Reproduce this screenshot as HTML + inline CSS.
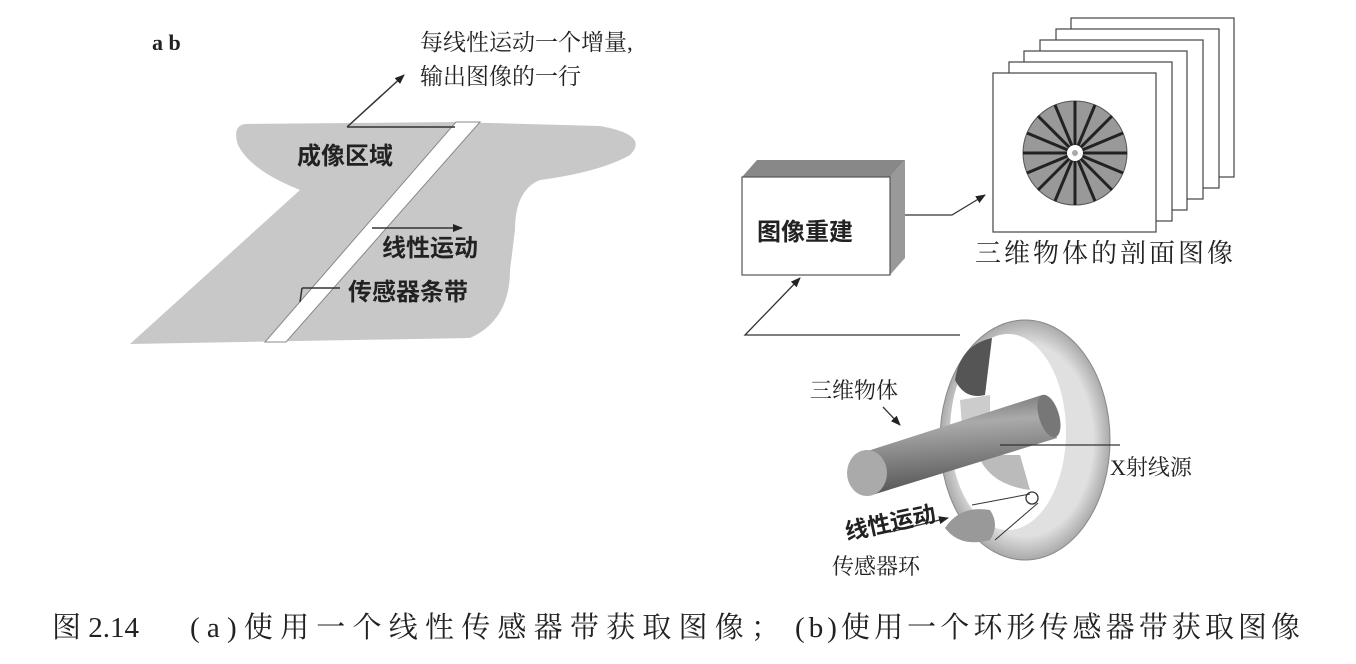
<!DOCTYPE html>
<html><head><meta charset="utf-8"><style>
html,body{margin:0;padding:0;background:#fff}
svg{display:block}
text{font-family:"Liberation Serif","Noto Serif CJK SC","Noto Sans CJK SC",serif;fill:#222}
.b{font-family:"Liberation Sans","Noto Sans CJK SC",sans-serif;font-weight:bold}
</style></head><body>
<svg width="1356" height="664" viewBox="0 0 1356 664" xmlns="http://www.w3.org/2000/svg">
<defs>
<marker id="ar" markerWidth="10" markerHeight="8" refX="9" refY="4" orient="auto" markerUnits="userSpaceOnUse"><path d="M0,0 L10,4 L0,8 z" fill="#222"/></marker>
<linearGradient id="cyl" x1="0" y1="0" x2="0.15" y2="1"><stop offset="0" stop-color="#666"/><stop offset="0.35" stop-color="#aaa"/><stop offset="1" stop-color="#555"/></linearGradient>
<radialGradient id="ring" cx="0.5" cy="0.5" r="0.5"><stop offset="0.8" stop-color="#e0e0e0"/><stop offset="1" stop-color="#aaa"/></radialGradient>
</defs>
<text x="152" y="50" font-size="22" style="font-family:'Liberation Serif',serif;font-weight:bold">a  b</text>
<path d="M245,124 L455,122 L600,126 Q650,135 630,155 Q600,172 540,180 Q515,190 515,230 L510,270 Q510,320 470,338 L130,344 L300,190 Q250,170 238,145 Q232,126 245,124 Z" fill="#c8c8c8"/>
<path d="M456,122 L480,122 L286,342 L265,342 Z" fill="#fff" stroke="#888" stroke-width="1"/>
<line x1="347" y1="127" x2="455" y2="127" stroke="#333" stroke-width="1.5"/>
<line x1="347" y1="127" x2="404" y2="75" stroke="#333" stroke-width="1.5" marker-end="url(#ar)"/>
<line x1="372" y1="228" x2="462" y2="228" stroke="#333" stroke-width="1.5" marker-end="url(#ar)"/>
<line x1="340" y1="288" x2="302" y2="288" stroke="#333" stroke-width="1.5"/>
<line x1="302" y1="288" x2="300" y2="302" stroke="#333" stroke-width="1.5"/>
<text x="420" y="50" font-size="23">每线性运动一个增量,</text>
<text x="420" y="84" font-size="23">输出图像的一行</text>
<text x="297" y="164" font-size="24" class="b">成像区域</text>
<text x="382" y="256" font-size="24" class="b">线性运动</text>
<text x="348" y="300" font-size="24" class="b">传感器条带</text>
<path d="M742,177 L757,160 L905,160 L890,177 Z" fill="#888"/>
<path d="M890,177 L905,160 L905,258 L890,275 Z" fill="#999"/>
<rect x="742" y="177" width="148" height="98" fill="#fff" stroke="#555" stroke-width="1.2"/>
<text x="757" y="240" font-size="24" class="b">图像重建</text>
<polyline points="905,215 952,215 985,195" fill="none" stroke="#333" stroke-width="1.3" marker-end="url(#ar)"/>
<g fill="#fff" stroke="#444" stroke-width="1.2">
<rect x="1071" y="18" width="163" height="159"/>
<rect x="1056" y="29" width="163" height="159"/>
<rect x="1040" y="40" width="163" height="159"/>
<rect x="1024" y="51" width="163" height="159"/>
<rect x="1009" y="62" width="163" height="159"/>
<rect x="993" y="73" width="163" height="159"/>
</g>
<circle cx="1075" cy="153" r="52" fill="#999" stroke="#555"/>
<g stroke="#222" stroke-width="3">
<line x1="1023" y1="153" x2="1127" y2="153"/><line x1="1075" y1="101" x2="1075" y2="205"/>
<line x1="1038" y1="116" x2="1112" y2="190"/><line x1="1112" y1="116" x2="1038" y2="190"/>
<line x1="1027" y1="133" x2="1123" y2="173"/><line x1="1027" y1="173" x2="1123" y2="133"/>
<line x1="1055" y1="105" x2="1095" y2="201"/><line x1="1095" y1="105" x2="1055" y2="201"/>
</g>
<circle cx="1075" cy="153" r="8" fill="#fff"/><circle cx="1075" cy="153" r="3" fill="#aaa"/>
<text x="975" y="262" font-size="26" letter-spacing="3">三维物体的剖面图像</text>
<polyline points="960,335 745,335 800,278" fill="none" stroke="#333" stroke-width="1.3" marker-end="url(#ar)"/>
<ellipse cx="1025" cy="440" rx="85" ry="120" fill="url(#ring)" stroke="#888"/>
<ellipse cx="1008" cy="432" rx="58" ry="98" fill="#fff"/>
<path d="M955,380 Q960,345 992,338 L985,395 Q965,400 955,380 Z" fill="#555"/>
<path d="M960,400 L990,395 L990,425 L962,425 Z" fill="#ccc"/>
<path d="M978,455 Q990,485 1030,490 L1020,455 Z" fill="#bbb"/>
<path d="M855,455 L1042,395 L1057,438 L872,495 Z" fill="url(#cyl)"/>
<ellipse cx="1049" cy="416" rx="10" ry="22" transform="rotate(-17 1049 416)" fill="#777"/>
<ellipse cx="867" cy="473" rx="20" ry="23" fill="#aaa"/>
<line x1="1000" y1="445" x2="1120" y2="445" stroke="#333" stroke-width="1.2"/>
<path d="M945,528 Q960,505 990,510 Q1000,525 990,540 Q960,548 945,528 Z" fill="#999"/>
<circle cx="1032" cy="498" r="6" fill="none" stroke="#333" stroke-width="1.3"/>
<line x1="972" y1="505" x2="1030" y2="494" stroke="#333"/>
<line x1="995" y1="540" x2="1038" y2="503" stroke="#333"/>
<line x1="890" y1="532" x2="948" y2="518" stroke="#333" stroke-width="1.3" marker-end="url(#ar)"/>
<line x1="883" y1="407" x2="900" y2="425" stroke="#333" stroke-width="1.3" marker-end="url(#ar)"/>
<text x="810" y="398" font-size="22">三维物体</text>
<text x="1110" y="475" font-size="22">X射线源</text>
<text x="847" y="540" font-size="23" class="b" transform="rotate(-12 847 540)">线性运动</text>
<text x="832" y="574" font-size="22">传感器环</text>
<text x="52" y="637" font-size="29">图 2.14</text>
<text x="190" y="637" font-size="29" textLength="590">(a)使用一个线性传感器带获取图像；</text>
<text x="795" y="637" font-size="29" textLength="505">(b)使用一个环形传感器带获取图像</text>
</svg>
</body></html>
